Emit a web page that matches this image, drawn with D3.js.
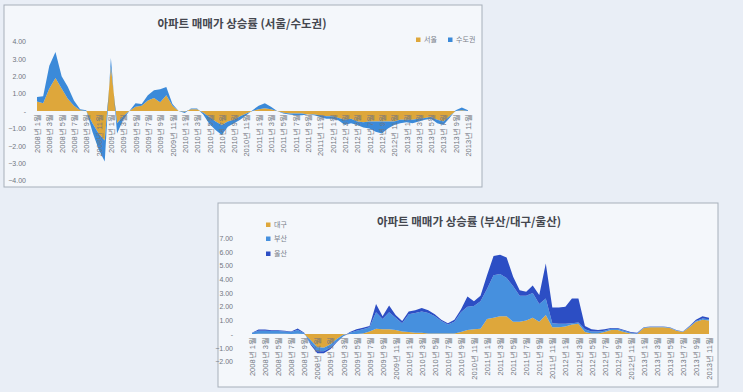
<!DOCTYPE html>
<html>
<head>
<meta charset="utf-8">
<script src="https://cdn.jsdelivr.net/npm/d3@7"></script>
<style>
  body { margin: 0; background: #e9eef6; }
  svg { display: block; font-family: "Noto Sans CJK KR", "Noto Sans", sans-serif; }
  .tick text { fill: #707680; }
</style>
</head>
<body>
<svg id="chart" width="743" height="392"></svg>
<script>
// period labels (every 2nd month), shared by both charts
const periodLabels = [
  "2008년 1월", "2008년 3월", "2008년 5월", "2008년 7월", "2008년 9월", "2008년 11월",
  "2009년 1월", "2009년 3월", "2009년 5월", "2009년 7월", "2009년 9월", "2009년 11월",
  "2010년 1월", "2010년 3월", "2010년 5월", "2010년 7월", "2010년 9월", "2010년 11월",
  "2011년 1월", "2011년 3월", "2011년 5월", "2011년 7월", "2011년 9월", "2011년 11월",
  "2012년 1월", "2012년 3월", "2012년 5월", "2012년 7월", "2012년 9월", "2012년 11월",
  "2013년 1월", "2013년 3월", "2013년 5월", "2013년 7월", "2013년 9월", "2013년 11월"
];

// top chart: 서울 / 수도권 (monthly %)
const seoul = [
  0.55, 0.45, 1.3, 1.9, 1.3, 0.7, 0.3, 0.05, 0, -0.7,
  -1.3, -1.7, 2.55, -0.7, -0.3, 0, 0.25, 0.3, 0.6, 0.75,
  0.5, 0.9, 0.3, 0, -0.05, 0.1, 0.1, -0.1, -0.35, -0.6,
  -0.8, -0.6, -0.5, -0.3, -0.15, 0, 0.1, 0.16, 0.1, 0,
  -0.1, -0.15, -0.15, -0.15, -0.2, -0.2, -0.25, -0.3, -0.3, -0.4,
  -0.5, -0.45, -0.6, -0.65, -0.6, -0.6, -0.6, -0.6, -0.6, -0.5,
  -0.5, -0.5, -0.45, -0.4, -0.35, -0.5, -0.6, -0.3, 0, 0.05,
  0
];
const capital = [
  0.25, 0.4, 1.3, 1.5, 0.7, 0.7, 0.3, 0.05, 0.05, -0.5,
  -0.9, -1.2, 0.5, -0.6, -0.2, 0, 0.2, 0.1, 0.3, 0.45,
  0.75, 0.48, 0.1, 0, -0.07, 0.05, 0.05, -0.1, -0.4, -0.5,
  -0.58, -0.3, -0.2, -0.2, -0.1, 0.05, 0.2, 0.29, 0.15, 0,
  -0.05, -0.05, -0.1, -0.1, 0, -0.05, -0.1, -0.15, -0.15, -0.15,
  -0.3, -0.25, -0.2, -0.3, -0.4, -0.6, -0.7, -0.4, -0.2, -0.2,
  -0.15, -0.2, -0.15, -0.1, -0.1, -0.2, -0.2, -0.1, 0.05, 0.15,
  0.05
];

// bottom chart: 대구 / 부산 / 울산 (monthly %)
const daegu = [
  0, 0.02, 0.02, 0.02, 0.02, 0.02, 0.01, 0.03, 0, -0.45,
  -0.95, -1.0, -0.75, -0.35, -0.05, 0, 0, 0.05, 0.2, 0.4,
  0.35, 0.35, 0.3, 0.2, 0.15, 0.1, 0.1, 0.05, 0.05, 0.05,
  0.05, 0.05, 0.15, 0.3, 0.35, 0.4, 1.1, 1.2, 1.3, 1.3,
  0.9, 0.9, 1.0, 1.2, 0.9, 1.4, 0.5, 0.5, 0.55, 0.7,
  0.75, 0.15, 0.05, 0.05, 0.15, 0.3, 0.3, 0.15, 0.05, 0,
  0.45, 0.5, 0.5, 0.5, 0.45, 0.25, 0.15, 0.5, 0.9, 1.05,
  1.0
];
const busan = [
  0.08, 0.23, 0.23, 0.2, 0.2, 0.17, 0.14, 0.28, 0.07, -0.25,
  -0.3, -0.25, -0.25, -0.2, -0.1, 0.1, 0.25, 0.3, 0.3, 1.2,
  0.75, 1.25, 0.9, 0.6, 1.3, 1.45, 1.55, 1.5, 1.25, 0.9,
  0.65, 0.85, 1.45, 1.7, 1.7, 2.0, 2.2, 3.1, 3.1, 2.8,
  2.6, 1.9, 1.8, 1.8, 1.3, 1.2, 0.3, 0.25, 0.2, 0.1,
  0.1, 0.2, 0.15, 0.15, 0.1, 0.1, 0.1, 0.1, 0.05, 0.05,
  0.03, 0.03, 0.03, 0.03, 0.03, 0.03, 0.03, 0.05, 0.05, 0.1,
  0.08
];
const ulsan = [
  0.02, 0.08, 0.08, 0.07, 0.07, 0.06, 0.05, 0.1, 0.03, -0.1,
  -0.15, -0.15, -0.1, -0.05, 0, 0.05, 0.1, 0.12, 0.1, 0.6,
  0.2, 0.5, 0.2, 0.15, 0.2, 0.2, 0.25, 0.2, 0.15, 0.1,
  0.1, 0.15, 0.2, 0.75, 0.35, 0.4, 1.0, 1.4, 1.4, 1.5,
  0.7, 0.4, 0.3, 0.55, 0.65, 2.55, 1.15, 1.2, 1.25, 1.8,
  1.75, 0.25, 0.15, 0.1, 0.1, 0.05, 0.05, 0.05, 0.05, 0.05,
  0.02, 0.02, 0.02, 0.02, 0.02, 0.02, 0.02, 0.05, 0.1, 0.15,
  0.12
];

const gold = "#dea73b";
const capBlue = "#3b8ad9";
const busanBlue = "#4690de";
const ulsanBlue = "#2c4ec4";

const svg = d3.select("#chart");
const labelMonths = d3.range(0, 71, 2);
const tickFmt = (v) => (v === 0 ? "-" : d3.format(".2f")(v));

// panels
svg.append("rect")
  .attr("x", 4).attr("y", 5).attr("width", 478).attr("height", 182)
  .attr("fill", "#f4f7fb").attr("stroke", "#a7afba");
svg.append("rect")
  .attr("x", 218).attr("y", 203).attr("width", 500).attr("height", 184)
  .attr("fill", "#f4f7fb").attr("stroke", "#a7afba");

function drawChart(opts) {
  const { rows, keys, colors, x, y, yTicks, yAxisX, title, titleX, titleY } = opts;
  const g = svg.append("g");

  const series = d3.stack().keys(keys)(rows);
  const area = d3.area()
    .x((d) => x(d.data.m))
    .y0((d) => y(d[0]))
    .y1((d) => y(d[1]));

  g.selectAll("path.layer")
    .data(series)
    .join("path")
    .attr("class", "layer")
    .attr("fill", (d, i) => colors[i])
    .attr("d", area);

  // y axis (no line)
  const yAxis = g.append("g")
    .attr("transform", `translate(${yAxisX},0)`)
    .call(d3.axisLeft(y).tickValues(yTicks).tickFormat(tickFmt).tickSize(0).tickPadding(0));
  yAxis.select(".domain").remove();
  yAxis.selectAll("text").style("font-size", "7px");

  // category labels sit under the zero line, rotated
  const xAxis = g.append("g")
    .attr("transform", `translate(0,${y(0)})`)
    .call(d3.axisBottom(x)
      .tickValues(labelMonths)
      .tickFormat((m) => periodLabels[m / 2])
      .tickSize(0));
  xAxis.select(".domain").remove();
  xAxis.selectAll("text")
    .attr("x", -3)
    .attr("y", 0)
    .attr("dy", "0.35em")
    .attr("transform", "rotate(-90)")
    .style("text-anchor", "end")
    .style("font-size", "7.5px");

  g.append("text")
    .attr("x", titleX).attr("y", titleY)
    .attr("text-anchor", "middle")
    .attr("fill", "#44474f")
    .style("font-size", "11.5px")
    .style("font-weight", "bold")
    .text(title);
  return g;
}

function legend(items, positions) {
  const lg = svg.append("g");
  items.forEach((it, i) => {
    const [lx, ly] = positions[i];
    lg.append("rect")
      .attr("x", lx).attr("y", ly - 2.5).attr("width", 4.5).attr("height", 4.5)
      .attr("fill", it.color);
    lg.append("text")
      .attr("x", lx + 8).attr("y", ly)
      .attr("dy", "0.35em")
      .attr("fill", "#7a808a")
      .style("font-size", "7px")
      .text(it.name);
  });
}

// ---- top chart
const topRows = seoul.map((v, m) => ({ m, seoul: v, capital: capital[m] }));
drawChart({
  rows: topRows,
  keys: ["seoul", "capital"],
  colors: [gold, capBlue],
  x: d3.scaleLinear().domain([0, 70]).range([37, 468]),
  y: d3.scaleLinear().domain([-4, 4]).range([180.5, 41.5]),
  yTicks: d3.range(-4, 5),
  yAxisX: 26,
  title: "아파트 매매가 상승률 (서울/수도권)",
  titleX: 242,
  titleY: 28
});
legend(
  [{ name: "서울", color: gold }, { name: "수도권", color: capBlue }],
  [[416, 40], [448, 40]]
);

// ---- bottom chart
const bottomRows = daegu.map((v, m) => ({ m, daegu: v, busan: busan[m], ulsan: ulsan[m] }));
drawChart({
  rows: bottomRows,
  keys: ["daegu", "busan", "ulsan"],
  colors: [gold, busanBlue, ulsanBlue],
  x: d3.scaleLinear().domain([0, 70]).range([252, 709]),
  y: d3.scaleLinear().domain([-2, 7]).range([361.5, 238.3]),
  yTicks: d3.range(-2, 8),
  yAxisX: 233,
  title: "아파트 매매가 상승률 (부산/대구/울산)",
  titleX: 469,
  titleY: 226
});
legend(
  [{ name: "대구", color: gold }, { name: "부산", color: busanBlue }, { name: "울산", color: ulsanBlue }],
  [[266, 225], [266, 239], [266, 254]]
);
</script>
</body>
</html>
